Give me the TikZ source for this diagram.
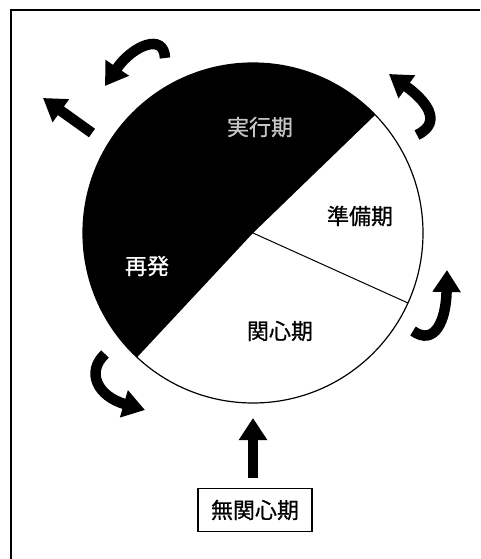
\documentclass[tikz,border=0pt]{standalone}
\usepackage{fontspec}
\newfontfamily\cjk[FakeBold=0.8]{Noto Sans CJK JP}
\usetikzlibrary{arrows.meta}
\begin{document}
\begin{tikzpicture}[x=1pt,y=-1pt,
  fatarrow/.style={line width=10.5pt,-{Triangle[width=27pt,length=22pt]}},
  lbl/.style={font=\cjk\fontsize{22}{26}\selectfont,inner sep=0pt},
  stagebox/.style={draw,line width=1.2pt,minimum width=114pt,minimum height=43pt,inner sep=0pt,font=\cjk\fontsize{22}{26}\selectfont}]
\useasboundingbox (0,0) rectangle (480,559);
\fill[white] (0,0) rectangle (480,559);
% frame
\draw[line width=1.4pt] (480,10) -- (11,10) -- (11,559);
% circle
\coordinate (C) at (253,233);
\begin{scope}
  \clip (C) circle[radius=170];
  \fill[black] (C) -- (972,-462) -- (-1161,-1181) -- (-429,964) -- cycle;
\end{scope}
\coordinate (E) at (408,303);
\draw[line width=1pt] (C) -- (E);
\draw[line width=1.2pt] (C) circle[radius=170];
% labels
\node[lbl,text=gray!45] (jikko) at (260,127) {実行期};
\node[lbl,text=white] (saihatsu) at (147,266) {再発};
\node[lbl] (junbi) at (360,216) {準備期};
\node[lbl] (kanshin) at (280,331) {関心期};
\node[stagebox] (mukanshin) at (255,510) {無関心期};
% arrows
\coordinate (a1s) at (253,478);
\coordinate (a1e) at (253,418);
\draw[fatarrow] (a1s) -- (a1e);
\coordinate (a2s) at (105,354);
\coordinate (a2e) at (145,410);
\draw[fatarrow] (a2s) .. controls (86,372) and (97,396) .. (a2e);
\coordinate (a3s) at (413,331);
\coordinate (a3e) at (447,270);
\draw[fatarrow] (a3s) .. controls (434,346) and (446,322) .. (a3e);
\coordinate (a4s) at (417,135);
\coordinate (a4e) at (389,74);
\draw[fatarrow] (a4s) .. controls (444,122) and (425,100) .. (a4e);
\coordinate (a5s) at (165,58);
\coordinate (a5e) at (105,86);
\draw[fatarrow] (a5s) .. controls (164,32) and (132,46) .. (a5e);
\coordinate (a6s) at (92,133);
\coordinate (a6e) at (43,98);
\draw[fatarrow] (a6s) -- (a6e);
\end{tikzpicture}
\end{document}
